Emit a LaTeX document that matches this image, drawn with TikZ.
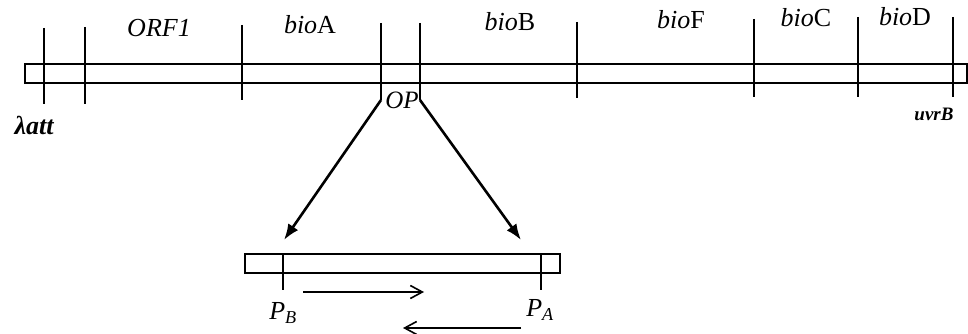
\documentclass[tikz,border=0pt]{standalone}
\usepackage{fontspec}
\setmainfont{Liberation Serif}
\usetikzlibrary{positioning,arrows.meta}

\begin{document}
\begin{tikzpicture}[x=1pt, y=-1pt,
        gene/.style = {font=\fontsize{26}{30}\selectfont},
        site/.style = {font=\fontsize{26}{30}\selectfont\itshape},
        tick/.style = {line width=1.9pt},
        strand/.style = {draw, line width=1.8pt},
        zoomarrow/.style = {-{Latex[length=16pt,width=12pt]}, line width=2.6pt},
        dirarrow/.style = {-{Straight Barb[length=12pt,width=13pt]}, line width=1.6pt}]
    \useasboundingbox (0,0) rectangle (968,334);

    % chromosome strand
    \draw[strand] (25,64) rectangle (967,83);

    \coordinate (att1) at (44,28);   \coordinate (att2) at (44,104);
    \coordinate (orf1) at (85,27);   \coordinate (orf2) at (85,104);
    \coordinate (bia1) at (242,25);  \coordinate (bia2) at (242,100);
    \coordinate (opl1) at (381,23);  \coordinate (opl2) at (381,100);
    \coordinate (opr1) at (420,23);  \coordinate (opr2) at (420,100);
    \coordinate (bif1) at (577,22);  \coordinate (bif2) at (577,98);
    \coordinate (bic1) at (754,19);  \coordinate (bic2) at (754,97);
    \coordinate (bid1) at (858,17);  \coordinate (bid2) at (858,97);
    \coordinate (uvr1) at (953,17);  \coordinate (uvr2) at (953,97);

    \draw[tick] (att1) -- (att2);
    \draw[tick] (orf1) -- (orf2);
    \draw[tick] (bia1) -- (bia2);
    \draw[tick] (opl1) -- (opl2);
    \draw[tick] (opr1) -- (opr2);
    \draw[tick] (bif1) -- (bif2);
    \draw[tick] (bic1) -- (bic2);
    \draw[tick] (bid1) -- (bid2);
    \draw[tick] (uvr1) -- (uvr2);

    \node[site] (ORF) at (159,28) {ORF1};
    \node[gene] (A) at (310,25) {\textit{bio}A};
    \node[gene] (B) at (510,22) {\textit{bio}B};
    \node[gene] (F) at (681,20) {\textit{bio}F};
    \node[gene] (C) at (806,18) {\textit{bio}C};
    \node[gene] (D) at (905,17) {\textit{bio}D};
    \node[site] (latt) at (34,125) {\textbf{λatt}};
    \node[font=\fontsize{19}{22}\selectfont\itshape\bfseries] (uvrB) at (934,114) {uvrB};
    \node[site, font=\fontsize{25}{30}\selectfont\itshape] (OP) at (402,100) {OP};

    % operator region
    \draw[strand] (245,254) rectangle (560,273);

    \coordinate (pb1) at (283,254);  \coordinate (pb2) at (283,290);
    \coordinate (pa1) at (541,254);  \coordinate (pa2) at (541,290);
    \draw[tick] (pb1) -- (pb2);
    \draw[tick] (pa1) -- (pa2);

    \node[site] (PB) at (283,313) {P\textsubscript{B}};
    \node[site] (PA) at (540,310) {P\textsubscript{A}};

    \coordinate (zl) at (284,240);
    \coordinate (zr) at (521,240);
    \draw[zoomarrow] (opl2) -- (zl);
    \draw[zoomarrow] (opr2) -- (zr);

    \coordinate (rb1) at (303,292);  \coordinate (rb2) at (424,292);
    \coordinate (la1) at (521,328);  \coordinate (la2) at (403,328);
    \draw[dirarrow] (rb1) -- (rb2);
    \draw[dirarrow] (la1) -- (la2);

\end{tikzpicture}
\end{document}
